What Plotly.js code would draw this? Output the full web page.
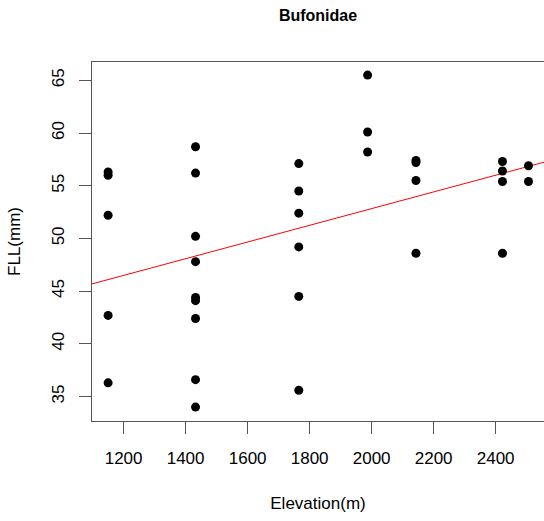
<!DOCTYPE html>
<html>
<head>
<meta charset="utf-8">
<script src="https://cdn.plot.ly/plotly-3.0.1.min.js"></script>
<style>html,body{margin:0;padding:0;background:#fff;}#chart{width:544px;height:521px;}</style>
</head>
<body>
<div id="chart"></div>
<script>
// Elevation (m) of each observation
const elevation = [
  1150, 1150, 1150, 1150, 1150,
  1432, 1432, 1432, 1432, 1432, 1432, 1432, 1432, 1432,
  1765, 1765, 1765, 1765, 1765, 1765,
  1987, 1987, 1987,
  2143, 2143, 2143, 2143,
  2422, 2422, 2422, 2422,
  2506, 2506
];
// FLL (mm) of each observation
const fll = [
  56.3, 56.0, 52.2, 42.7, 36.3,
  58.7, 56.2, 50.2, 47.8, 44.4, 44.1, 42.4, 36.6, 34.0,
  57.1, 54.5, 52.4, 49.2, 44.5, 35.6,
  65.5, 60.1, 58.2,
  57.4, 57.2, 55.5, 48.6,
  57.3, 56.4, 55.4, 48.6,
  56.9, 55.4
];
const xTicks = [1200, 1400, 1600, 1800, 2000, 2200, 2400];
const yTicks = [35, 40, 45, 50, 55, 60, 65];
const xRange = [1098, 2556];
const yRange = [32.68, 66.74];

// least-squares fit
const n = elevation.length;
const mx = elevation.reduce((a, b) => a + b, 0) / n;
const my = fll.reduce((a, b) => a + b, 0) / n;
let sxy = 0, sxx = 0;
for (let i = 0; i < n; i++) { sxy += (elevation[i] - mx) * (fll[i] - my); sxx += (elevation[i] - mx) ** 2; }
const slope = sxy / sxx;
const intercept = my - slope * mx;
const fitX = xRange.slice();
const fitY = fitX.map(x => intercept + slope * x);

const FONT = '"Liberation Sans", Arial, sans-serif';

const traces = [
  { x: fitX, y: fitY, mode: 'lines', type: 'scatter', line: { color: '#ff0000', width: 1 }, hoverinfo: 'skip' },
  { x: elevation, y: fll, mode: 'markers', type: 'scatter', marker: { color: '#000', size: 9, line: { width: 0 } } }
];

const layout = {
  width: 544, height: 521,
  margin: { l: 92, r: 0, t: 62, b: 100, pad: 0 },
  paper_bgcolor: '#fff', plot_bgcolor: '#fff',
  showlegend: false,
  font: { family: FONT, color: '#000', size: 17 },
  title: { text: '<b>Bufonidae</b>', font: { family: FONT, size: 16, color: '#000' }, x: 0.5, xref: 'paper', y: 1 - 15 / 521, yref: 'container', yanchor: 'middle' },
  xaxis: {
    range: xRange, tickvals: xTicks, ticktext: xTicks.map(String),
    showgrid: false, zeroline: false,
    showline: true, mirror: true, linecolor: '#555', linewidth: 1,
    ticks: 'outside', ticklen: 12, tickcolor: '#555', tickwidth: 1,
    ticklabelstandoff: 10,
    tickfont: { family: FONT, size: 17, color: '#000' },
    title: { text: 'Elevation(m)', font: { family: FONT, size: 17, color: '#000' }, standoff: 29 }
  },
  yaxis: {
    range: yRange, tickvals: yTicks, ticktext: yTicks.map(String),
    showgrid: false, zeroline: false,
    showline: true, mirror: false, linecolor: '#555', linewidth: 1,
    ticks: 'outside', ticklen: 12, tickcolor: '#555', tickwidth: 1,
    tickangle: -90, ticklabelstandoff: 8,
    tickfont: { family: FONT, size: 17, color: '#000' },
    title: { text: 'FLL(mm)', font: { family: FONT, size: 17, color: '#000' }, standoff: 24 }
  }
};

Plotly.newPlot('chart', traces, layout, { displayModeBar: false, staticPlot: true });
</script>
</body>
</html>
